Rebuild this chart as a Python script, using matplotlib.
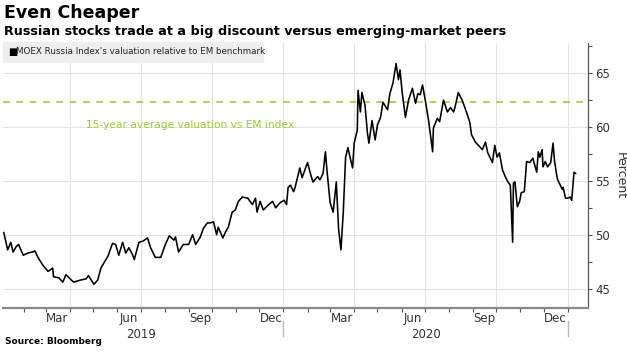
import numpy as np
import pandas as pd
import matplotlib as mpl
mpl.use("Agg")
import matplotlib.pyplot as plt
import matplotlib.dates as mdates
import matplotlib.transforms as mtrans
from matplotlib.ticker import MultipleLocator

# MOEX valuation relative to EM benchmark (%)
dates = [
    "2019-01-06", "2019-01-11", "2019-01-15", "2019-01-18", "2019-01-22", "2019-01-25", "2019-01-31",
    "2019-02-06", "2019-02-12", "2019-02-15", "2019-02-19", "2019-02-25", "2019-03-04", "2019-03-10",
    "2019-03-11", "2019-03-18", "2019-03-23", "2019-03-27", "2019-03-31", "2019-04-06", "2019-04-15",
    "2019-04-22", "2019-04-25", "2019-05-02", "2019-05-07", "2019-05-11", "2019-05-15", "2019-05-20",
    "2019-05-26", "2019-05-30", "2019-06-03", "2019-06-08", "2019-06-12", "2019-06-16", "2019-06-21",
    "2019-06-23", "2019-06-29", "2019-07-04", "2019-07-10", "2019-07-14", "2019-07-20", "2019-07-27",
    "2019-08-02", "2019-08-07", "2019-08-13", "2019-08-15", "2019-08-19", "2019-08-25", "2019-09-01",
    "2019-09-06", "2019-09-10", "2019-09-16", "2019-09-20", "2019-09-25", "2019-09-29", "2019-10-03",
    "2019-10-07", "2019-10-09", "2019-10-15", "2019-10-18", "2019-10-22", "2019-10-27", "2019-10-31",
    "2019-11-04", "2019-11-09", "2019-11-16", "2019-11-22", "2019-11-26", "2019-11-28", "2019-12-02",
    "2019-12-06", "2019-12-13", "2019-12-18", "2019-12-22", "2019-12-28", "2020-01-02", "2020-01-05",
    "2020-01-07", "2020-01-10", "2020-01-14", "2020-01-16", "2020-01-22", "2020-01-25", "2020-02-01",
    "2020-02-05", "2020-02-08", "2020-02-14", "2020-02-17", "2020-02-21", "2020-02-24", "2020-02-26",
    "2020-03-01", "2020-03-05", "2020-03-09", "2020-03-12", "2020-03-15", "2020-03-18", "2020-03-21",
    "2020-03-24", "2020-03-27", "2020-03-30", "2020-04-01", "2020-04-05", "2020-04-06", "2020-04-09",
    "2020-04-11", "2020-04-15", "2020-04-18", "2020-04-20", "2020-04-24", "2020-04-28", "2020-05-01",
    "2020-05-05", "2020-05-08", "2020-05-14", "2020-05-17", "2020-05-21", "2020-05-25", "2020-05-28",
    "2020-05-30", "2020-06-02", "2020-06-06", "2020-06-10", "2020-06-15", "2020-06-19", "2020-06-22",
    "2020-06-25", "2020-06-28", "2020-07-02", "2020-07-06", "2020-07-11", "2020-07-12", "2020-07-17",
    "2020-07-20", "2020-07-22", "2020-07-25", "2020-07-30", "2020-08-03", "2020-08-07", "2020-08-09",
    "2020-08-13", "2020-08-18", "2020-08-19", "2020-08-24", "2020-08-28", "2020-08-30", "2020-09-04",
    "2020-09-08", "2020-09-13", "2020-09-17", "2020-09-20", "2020-09-26", "2020-09-29", "2020-10-02",
    "2020-10-05", "2020-10-09", "2020-10-13", "2020-10-16", "2020-10-19", "2020-10-22", "2020-10-23",
    "2020-10-25", "2020-10-28", "2020-10-31", "2020-11-02", "2020-11-06", "2020-11-09", "2020-11-13",
    "2020-11-17", "2020-11-22", "2020-11-24", "2020-11-26", "2020-11-29", "2020-11-30", "2020-12-03",
    "2020-12-06", "2020-12-10", "2020-12-13", "2020-12-15", "2020-12-18", "2020-12-19", "2020-12-25",
    "2020-12-26", "2020-12-29", "2021-01-01", "2021-01-04", "2021-01-06", "2021-01-09", "2021-01-11",
]
values = [
    50.2, 48.6, 49.3, 48.4, 48.9, 49.1, 48.1,
    48.3, 48.4, 48.5, 47.9, 47.2, 46.6, 46.9,
    46.1, 46.0, 45.6, 46.3, 46.0, 45.6, 45.8,
    45.9, 46.2, 45.4, 45.8, 46.9, 47.4, 48.0,
    49.2, 49.1, 48.1, 49.3, 48.3, 48.8, 48.1,
    47.7, 49.3, 49.4, 49.7, 48.8, 47.9, 47.9,
    49.1, 49.9, 49.5, 49.8, 48.4, 49.1, 49.1,
    50.0, 49.1, 49.8, 50.6, 51.1, 51.1, 51.2,
    50.0, 50.7, 49.7, 50.2, 50.7, 52.1, 52.3,
    53.1, 53.5, 53.4, 52.8, 53.4, 52.1, 53.1,
    52.3, 52.8, 53.1, 52.5, 53.0, 53.2, 52.8,
    54.4, 54.6, 54.0, 54.4, 56.2, 55.3, 56.7,
    55.6, 54.9, 55.4, 55.1, 55.7, 57.7, 56.0,
    53.0, 52.1, 54.9, 50.5, 48.6, 52.1, 57.2,
    58.1, 57.1, 56.2, 58.5, 59.7, 63.4, 61.4,
    63.2, 62.0, 59.5, 58.5, 60.6, 58.8, 60.2,
    60.9, 62.3, 61.6, 63.1, 64.1, 65.9, 64.4,
    65.3, 63.1, 60.9, 62.5, 63.6, 62.2, 63.1,
    63.0, 63.9, 62.3, 60.5, 57.7, 59.9, 60.8,
    60.5, 61.3, 62.5, 61.4, 61.8, 61.4, 61.9,
    63.2, 62.5, 62.3, 61.3, 60.4, 59.3, 58.6,
    58.3, 57.9, 58.6, 57.6, 56.7, 58.3, 57.2,
    57.6, 56.0, 55.3, 54.9, 54.6, 49.3, 54.8,
    54.9, 52.6, 53.1, 53.9, 54.0, 56.8, 56.7,
    57.1, 55.8, 57.7, 57.2, 57.9, 56.3, 56.8,
    56.3, 56.7, 58.5, 56.8, 55.4, 55.1, 54.2,
    54.4, 53.4, 53.4, 53.5, 53.2, 55.8, 55.7,
]
avg_15y = 62.3
month_labels = ["Mar", "Jun", "Sep", "Dec"]
years = [2019, 2020]

GREEN = "#9cc93b"
GRID = "#e3e3e3"
AXIS = "#555555"

plt.rcParams["font.family"] = "DejaVu Sans"

fig = plt.figure(figsize=(6.27, 3.53), dpi=100)
W, H = 627, 353
ax = fig.add_axes([3 / W, (H - 308) / H, 585 / W, 265 / H])

x = pd.to_datetime(dates)
ax.plot(x, values, color="black", lw=1.15, zorder=3)
ax.axhline(avg_15y, color=GREEN, lw=1.2, ls=(0, (4, 4)), zorder=2)
ax.text(pd.Timestamp("2019-04-22"), 60.2, "15-year average valuation vs EM index",
        color=GREEN, fontsize=7.7, va="center", ha="left")

ax.set_xlim(pd.Timestamp("2019-01-05"), pd.Timestamp("2021-01-27"))
ax.set_ylim(43.2, 67.8)

# right y-axis
ax.yaxis.tick_right()
ax.yaxis.set_label_position("right")
ax.yaxis.set_major_locator(MultipleLocator(5))
ax.yaxis.set_minor_locator(MultipleLocator(2.5))
ax.tick_params(axis="y", which="both", direction="out", length=3, width=0.8,
               color=AXIS, labelsize=8.5, labelcolor="#333333", pad=2)
ax.set_ylabel("Percent", rotation=270, fontsize=9, color="#333333", labelpad=12)
ax.grid(axis="y", color=GRID, lw=0.8)

# x ticks: month boundaries unlabeled, labels at mid-month
ax.xaxis.set_major_locator(mdates.MonthLocator())
ax.xaxis.set_major_formatter(plt.NullFormatter())
ax.xaxis.set_minor_locator(mdates.MonthLocator(bymonth=[3, 6, 9, 12], bymonthday=16))
ax.xaxis.set_minor_formatter(mdates.DateFormatter("%b"))
ax.tick_params(axis="x", which="major", direction="out", length=3, width=0.8, color=AXIS)
ax.tick_params(axis="x", which="minor", length=0, labelsize=8.5, labelcolor="#333333", pad=3)

for q in pd.date_range("2019-04-01", "2021-01-01", freq="QS"):
    ax.axvline(q, color=GRID, lw=0.8, zorder=0)

for s in ["top", "left"]:
    ax.spines[s].set_visible(False)
ax.spines["bottom"].set_color("#888888")
ax.spines["bottom"].set_linewidth(1.6)
ax.spines["right"].set_color(AXIS)
ax.spines["right"].set_linewidth(0.9)

# year labels and separators
trans = mtrans.blended_transform_factory(ax.transData, ax.transAxes)
for yr in years:
    ax.text(pd.Timestamp(f"{yr}-07-02"), -0.075, str(yr), transform=trans,
            ha="center", va="top", fontsize=8.5, color="#333333")
    ax.plot([pd.Timestamp(f"{yr + 1}-01-01")] * 2, [-0.05, -0.105], transform=trans,
            color="#bbbbbb", lw=1, clip_on=False)

# legend box
fig.patches.append(mpl.patches.Rectangle((3 / W, (H - 62) / H), 260 / W, 20 / H,
                                         transform=fig.transFigure, color="#eeeeee", zorder=0))
fig.text(8 / W, (H - 52) / H, "\u25a0", fontsize=7, va="center", ha="left", color="black")
fig.text(16 / W, (H - 52) / H, "MOEX Russia Index's valuation relative to EM benchmark",
         fontsize=6.3, va="center", ha="left", color="#222222")

fig.text(4 / W, (H - 13) / H, "Even Cheaper", fontsize=12.5, fontweight="bold", va="center")
fig.text(4 / W, (H - 31) / H, "Russian stocks trade at a big discount versus emerging-market peers",
         fontsize=9.2, fontweight="bold", va="center")
fig.text(5 / W, (H - 341) / H, "Source: Bloomberg", fontsize=6.5, fontweight="bold", va="center")

fig.savefig("out.png", dpi=100)
